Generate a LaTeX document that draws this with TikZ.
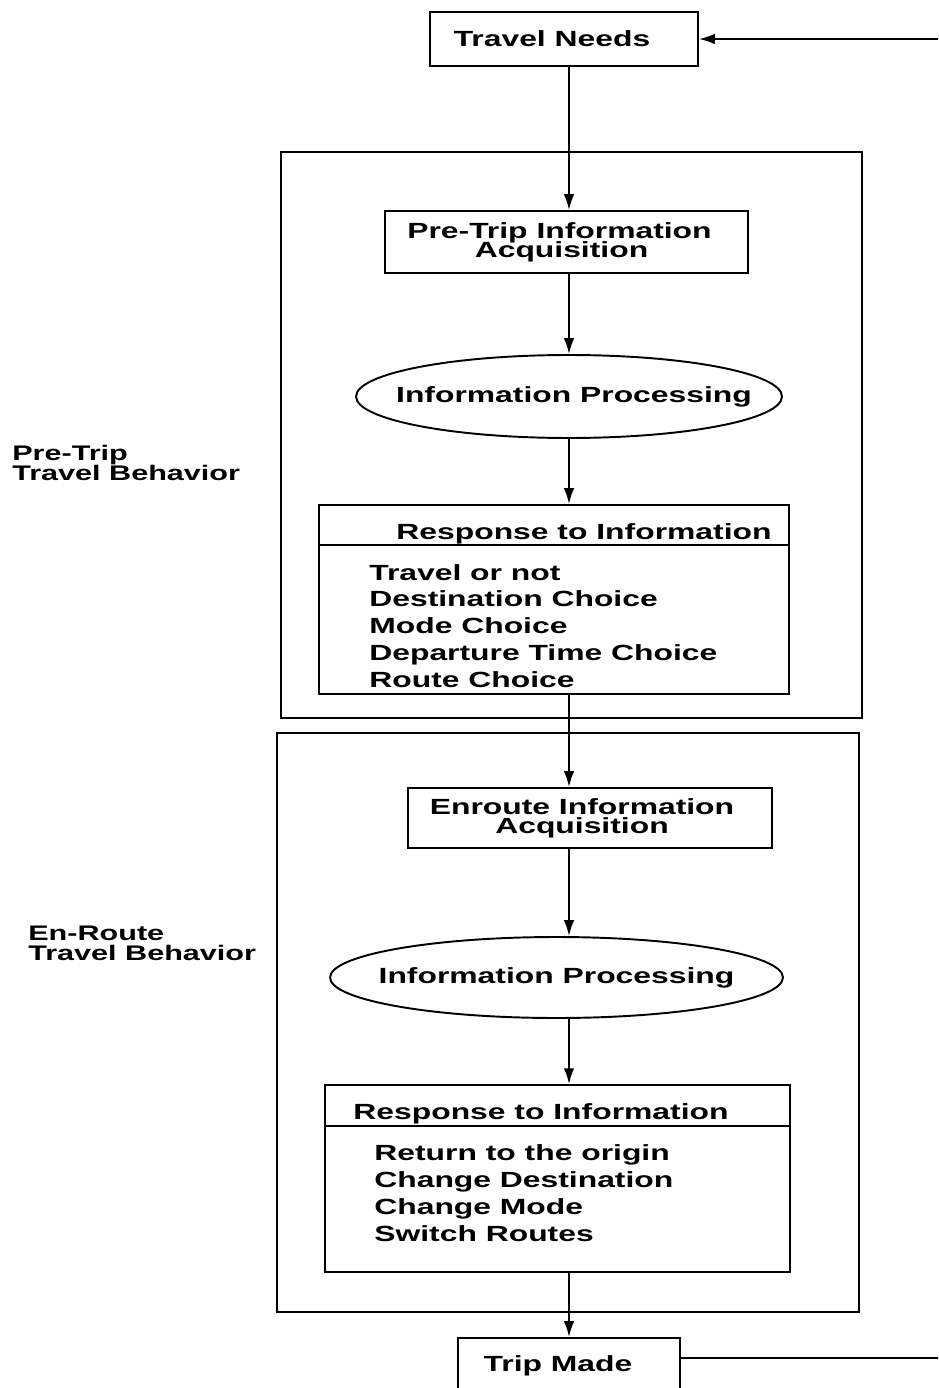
\documentclass[tikz,border=0pt]{standalone}
\usepackage{fontspec}
\newfontfamily\figfont{Liberation Sans}[FakeStretch=1.45]
\newcommand\tightlines{\lineskiplimit=-20pt\relax}
\usetikzlibrary{positioning, arrows.meta, shapes.geometric, calc}

\begin{document}
\begin{tikzpicture}[
    x=0.02cm, y=-0.02cm,
    box/.style={draw, line width=1.1pt, inner sep=0pt, align=center, font=\figfont\bfseries\fontsize{12.5}{11}\selectfont\tightlines},
    frame/.style={draw, line width=1.1pt, inner sep=0pt},
    oval/.style={frame, ellipse},
    txt/.style={inner sep=0pt, anchor=base west, font=\figfont\bfseries\fontsize{12.5}{11}\selectfont},
    side/.style={inner sep=0pt, anchor=north west, align=left, font=\figfont\bfseries\fontsize{12}{11.2}\selectfont\tightlines},
    arrow/.style={-{Latex[length=9pt,width=6pt]}, line width=1.1pt},
]
\useasboundingbox (0,0) rectangle (938,1388);
\clip (0,0) rectangle (938,1388);

% Outer frames
\node[frame, minimum width=11.62cm, minimum height=11.32cm] (pretrip) at (571.5,435) {};
\node[frame, minimum width=11.64cm, minimum height=11.58cm] (enroute) at (568,1022.5) {};

\node[side] (lbl_pre) at (12,445) {Pre-Trip\\Travel Behavior};
\node[side] (lbl_en) at (28,926) {En-Route\\Travel Behavior};

% Top and bottom
\node[box, minimum width=5.36cm, minimum height=1.08cm] (needs) at (564,39) {Travel Needs\hspace*{0.48cm}};
\node[box, minimum width=4.44cm, minimum height=1.1cm, anchor=north] (made) at (569,1337) {Trip Made\hspace*{0.44cm}};

% Pre-trip stage
\node[box, minimum width=7.26cm, minimum height=1.24cm] (acq1) at (566.5,242) {Pre-Trip Information\hspace*{0.28cm}\\Acquisition\hspace*{0.2cm}};
\node[oval, minimum width=8.52cm, minimum height=1.66cm] (proc1) at (569,396.5) {};
\node[txt, anchor=center] (proc1_t) at ([xshift=0.1cm]proc1) {Information Processing};
\node[frame, minimum width=9.4cm, minimum height=3.78cm] (resp1) at (554,599.5) {};
\draw[line width=1.1pt] ($(resp1.north west)+(0,41)$) -- ($(resp1.north east)+(0,41)$);
\node[txt, anchor=base] (head1) at (584,539) {Response to Information};
\foreach \i/\item in {0/Travel or not, 1/Destination Choice, 2/Mode Choice, 3/Departure Time Choice, 4/Route Choice} {
    \node[txt] (r1_\i) at (369,580+\i*26.8) {\item};
}

% En-route stage
\node[box, minimum width=7.28cm, minimum height=1.2cm] (acq2) at (590,818) {Enroute Information\hspace*{0.32cm}\\Acquisition\hspace*{0.32cm}};
\node[oval, minimum width=9.06cm, minimum height=1.62cm] (proc2) at (556.5,977.5) {};
\node[txt, anchor=center] (proc2_t) at (proc2) {Information Processing};
\node[frame, minimum width=9.3cm, minimum height=3.74cm] (resp2) at (557.5,1178.5) {};
\draw[line width=1.1pt] ($(resp2.north west)+(0,42)$) -- ($(resp2.north east)+(0,42)$);
\node[txt, anchor=base] (head2) at (541,1119) {Response to Information};
\foreach \i/\item in {0/Return to the origin, 1/Change Destination, 2/Change Mode, 3/Switch Routes} {
    \node[txt] (r2_\i) at (374,1160+\i*27) {\item};
}

% Main flow
\coordinate (spine) at (569,0);
\draw[arrow] (needs.south -| spine) -- (acq1.north -| spine);
\draw[arrow] (acq1.south -| spine) -- (proc1.north -| spine);
\draw[arrow] (proc1.south -| spine) -- (resp1.north -| spine);
\draw[arrow] (resp1.south -| spine) -- (acq2.north -| spine);
\draw[arrow] (acq2.south -| spine) -- (proc2.north -| spine);
\draw[arrow] (proc2.south -| spine) -- (resp2.north -| spine);
\draw[arrow] (resp2.south -| spine) -- (made.north -| spine);

% Feedback loop
\coordinate (loop) at (960,0);
\draw[arrow] ([yshift=-12pt]made.north east) -- ([yshift=-12pt]made.north east -| loop) -- (needs.east -| loop) -- (needs.east);

\end{tikzpicture}
\end{document}
